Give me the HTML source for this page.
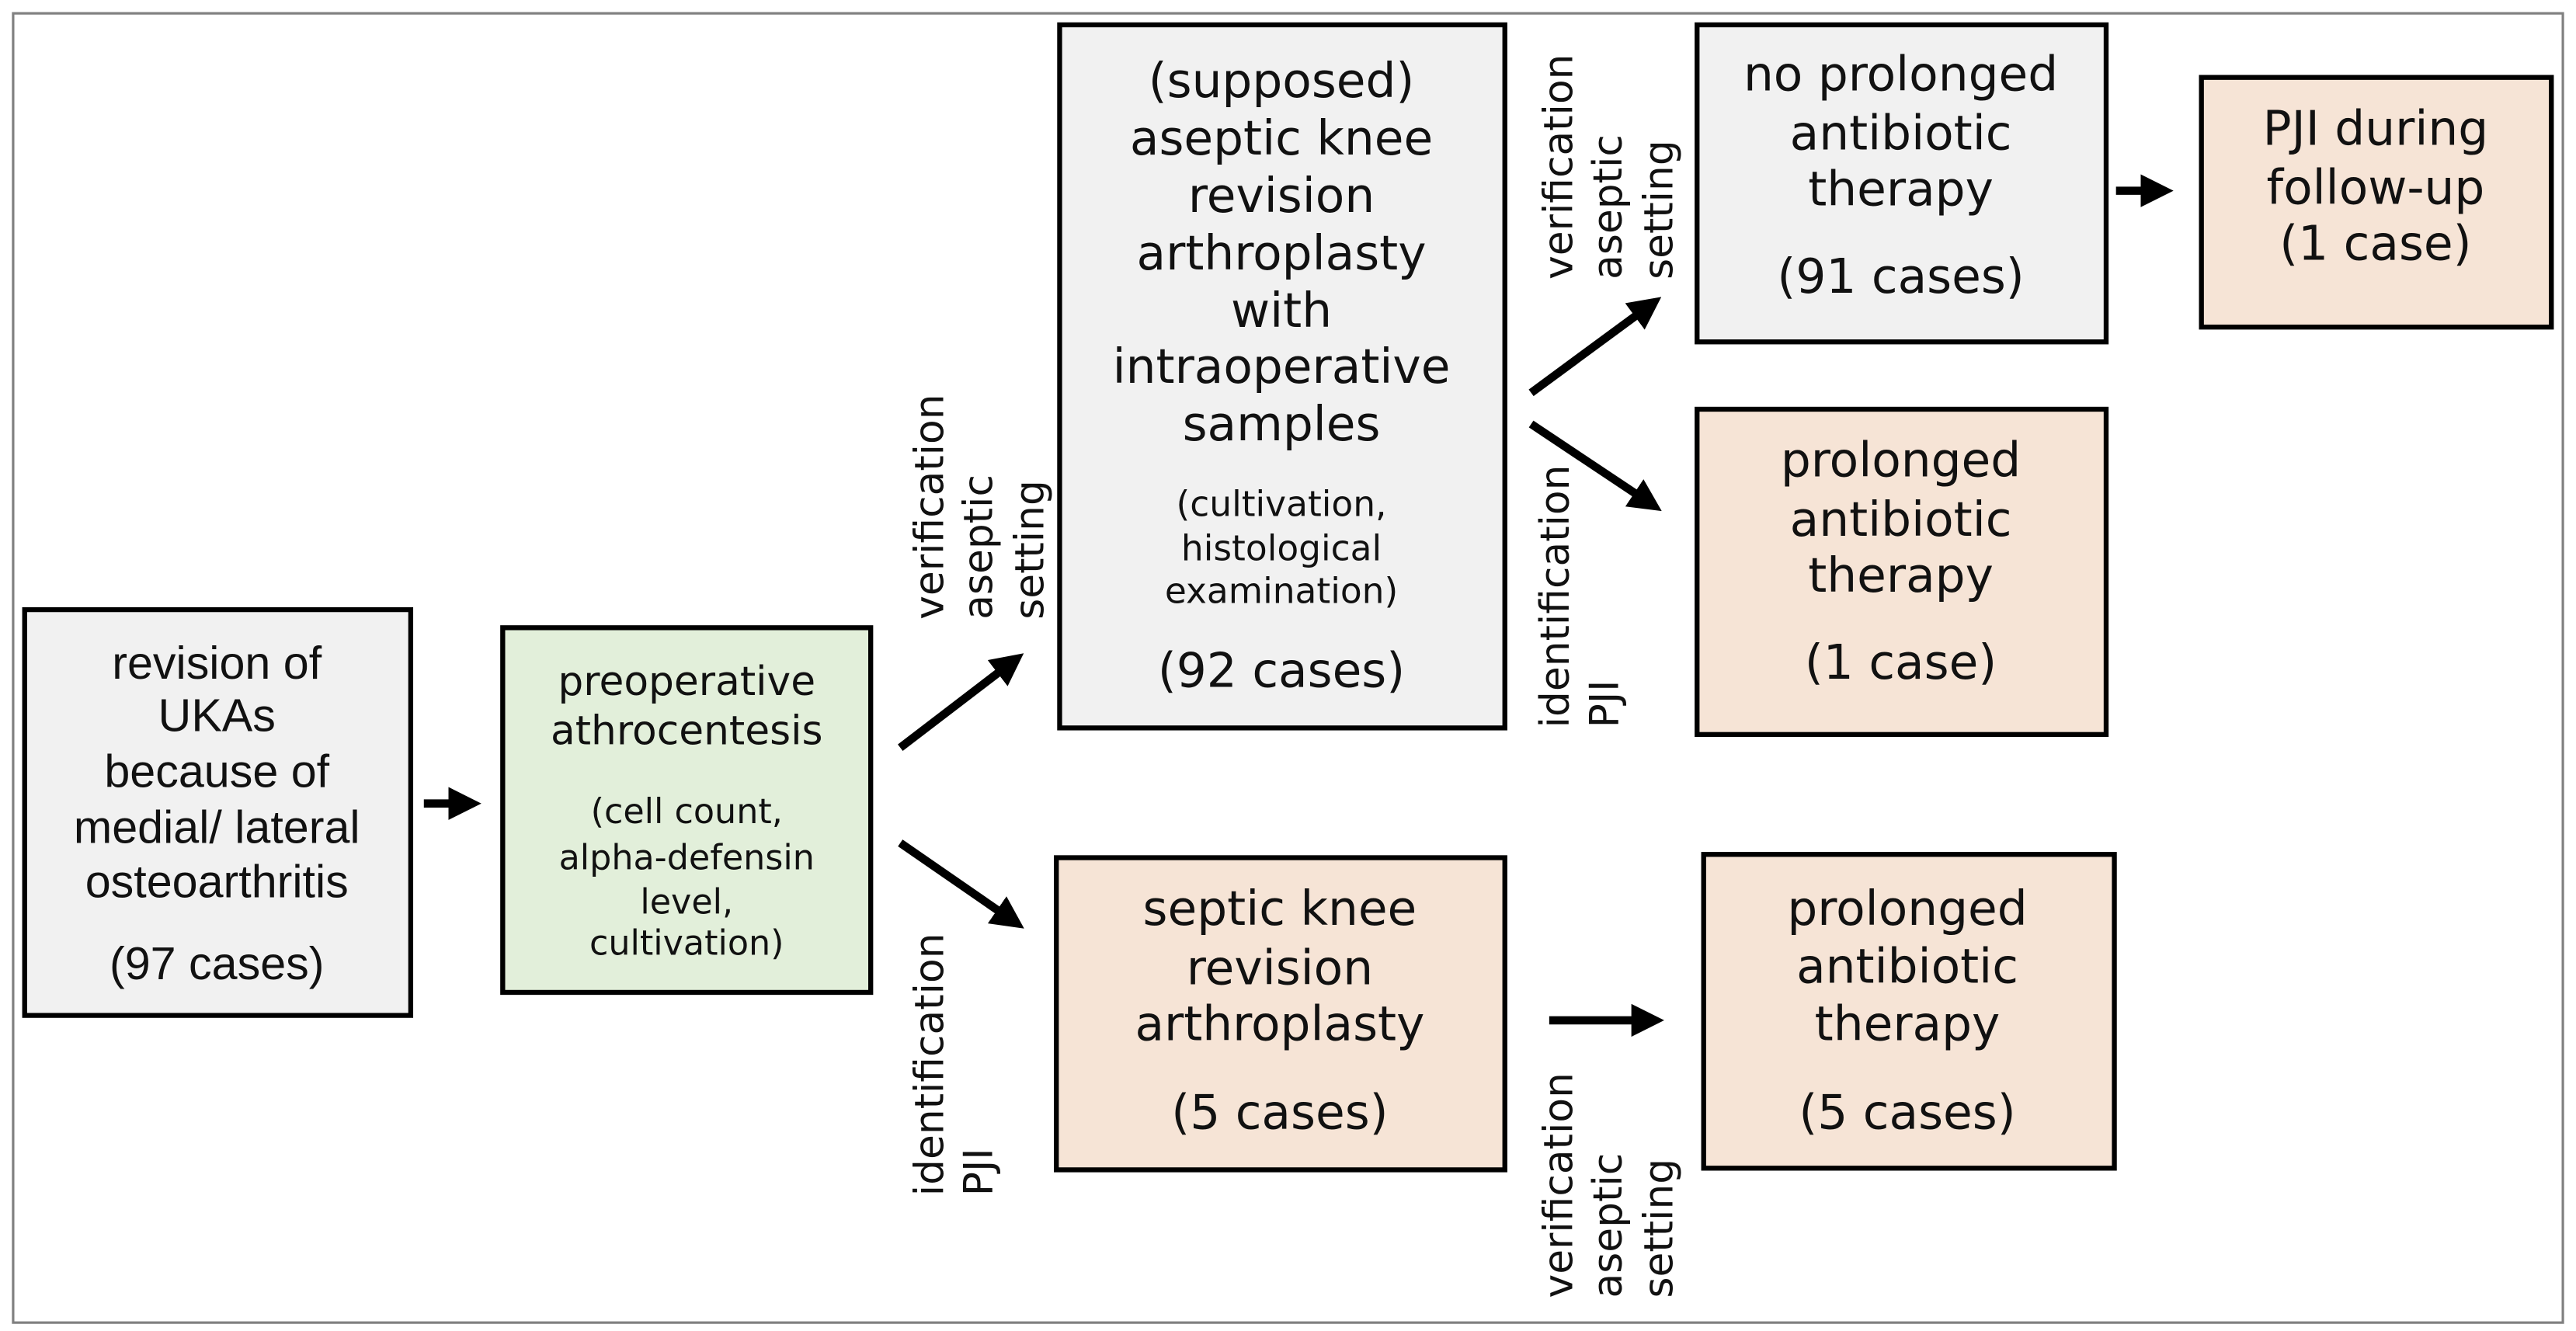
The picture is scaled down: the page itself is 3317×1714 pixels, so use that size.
<!DOCTYPE html>
<html><head><meta charset="utf-8"><style>
html,body{margin:0;padding:0;background:#fff;}
svg{display:block;}
.d{font-family:"DejaVu Sans",sans-serif;fill:#111;}
.l{font-family:"Liberation Sans",sans-serif;fill:#111;}
</style></head><body>
<svg width="3317" height="1714" viewBox="0 0 1568 810" xmlns="http://www.w3.org/2000/svg">
<defs>
<marker id="ah" markerWidth="4" markerHeight="4" refX="2.2" refY="2" orient="auto" markerUnits="strokeWidth">
<path d="M0,0 L4,2 L0,4 z" fill="#000"/>
</marker>
</defs>
<rect x="8" y="8" width="1552" height="797" fill="#fff" stroke="#808080" stroke-width="1.5"/>

<!-- boxes -->
<rect x="15" y="371" width="235" height="247" fill="#f1f1f1" stroke="#000" stroke-width="3"/>
<rect x="306" y="382" width="224" height="222" fill="#e2efda" stroke="#000" stroke-width="3"/>
<rect x="645" y="15" width="271" height="428" fill="#f1f1f1" stroke="#000" stroke-width="3"/>
<rect x="1033" y="15" width="249" height="193" fill="#f1f1f1" stroke="#000" stroke-width="3"/>
<rect x="1340" y="47" width="213" height="152" fill="#f6e4d6" stroke="#000" stroke-width="3"/>
<rect x="1033" y="249" width="249" height="198" fill="#f6e4d6" stroke="#000" stroke-width="3"/>
<rect x="643" y="522" width="273" height="190" fill="#f6e4d6" stroke="#000" stroke-width="3"/>
<rect x="1037" y="520" width="250" height="191" fill="#f6e4d6" stroke="#000" stroke-width="3"/>

<!-- box texts -->
<g class="l" font-size="28" text-anchor="middle">
<text x="132" y="413">revision of</text>
<text x="132" y="445">UKAs</text>
<text x="132" y="479">because of</text>
<text x="132" y="513">medial/ lateral</text>
<text x="132" y="546">osteoarthritis</text>
<text x="132" y="596">(97 cases)</text>
</g>
<g class="d" text-anchor="middle">
<text x="418" y="423" font-size="24.5">preoperative</text>
<text x="418" y="453" font-size="24.5">athrocentesis</text>
<text x="418" y="501" font-size="21">(cell count,</text>
<text x="418" y="529" font-size="21">alpha-defensin</text>
<text x="418" y="556" font-size="21">level,</text>
<text x="418" y="581" font-size="21">cultivation)</text>
</g>
<g class="d" text-anchor="middle" font-size="29">
<text x="780" y="59">(supposed)</text>
<text x="780" y="94">aseptic knee</text>
<text x="780" y="129">revision</text>
<text x="780" y="164">arthroplasty</text>
<text x="780" y="199">with</text>
<text x="780" y="233">intraoperative</text>
<text x="780" y="268">samples</text>
<text x="780" y="314" font-size="21.5">(cultivation,</text>
<text x="780" y="341" font-size="21.5">histological</text>
<text x="780" y="367" font-size="21.5">examination)</text>
<text x="780" y="418">(92 cases)</text>

<text x="1157" y="55">no prolonged</text>
<text x="1157" y="91">antibiotic</text>
<text x="1157" y="125">therapy</text>
<text x="1157" y="178">(91 cases)</text>

<text x="1446" y="88">PJI during</text>
<text x="1446" y="124">follow-up</text>
<text x="1446" y="158">(1 case)</text>

<text x="1157" y="290">prolonged</text>
<text x="1157" y="326">antibiotic</text>
<text x="1157" y="360">therapy</text>
<text x="1157" y="413">(1 case)</text>

<text x="779" y="563">septic knee</text>
<text x="779" y="599">revision</text>
<text x="779" y="633">arthroplasty</text>
<text x="779" y="687">(5 cases)</text>

<text x="1161" y="563">prolonged</text>
<text x="1161" y="598">antibiotic</text>
<text x="1161" y="633">therapy</text>
<text x="1161" y="687">(5 cases)</text>
</g>

<!-- arrows -->
<g stroke="#000" stroke-width="5" fill="none" marker-end="url(#ah)">
<line x1="258" y1="489" x2="284" y2="489"/>
<line x1="548" y1="455" x2="616" y2="403"/>
<line x1="548" y1="513" x2="616" y2="560"/>
<line x1="932" y1="239" x2="1004" y2="186"/>
<line x1="932" y1="258" x2="1004" y2="306"/>
<line x1="1288" y1="116" x2="1314" y2="116"/>
<line x1="943" y1="621" x2="1004" y2="621"/>
</g>

<!-- rotated labels -->
<g class="d" font-size="24.5">
<g transform="translate(574,377) rotate(-90)">
<text x="0" y="0">verification</text><text x="0" y="30">aseptic</text><text x="0" y="61">setting</text>
</g>
<g transform="translate(574,728) rotate(-90)">
<text x="0" y="0">identification</text><text x="0" y="30">PJI</text>
</g>
<g transform="translate(957,790) rotate(-90)">
<text x="0" y="0">verification</text><text x="0" y="30">aseptic</text><text x="0" y="61">setting</text>
</g>
<g transform="translate(957,170) rotate(-90)">
<text x="0" y="0">verification</text><text x="0" y="30">aseptic</text><text x="0" y="61">setting</text>
</g>
<g transform="translate(955,443) rotate(-90)">
<text x="0" y="0">identification</text><text x="0" y="30">PJI</text>
</g>
</g>
</svg>
</body></html>
